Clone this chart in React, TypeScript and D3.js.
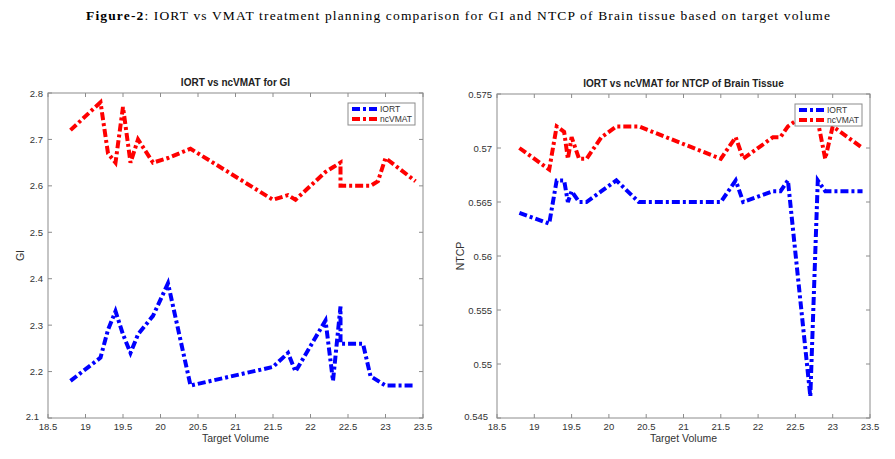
import React, { useRef, useEffect } from 'react'
import * as d3 from 'd3'

// Target volumes (x) shared by the GI series
const giVolume = [18.8, 19.2, 19.3, 19.4, 19.5, 19.6, 19.7, 19.9, 20.1, 20.4, 21.5, 21.7, 21.8, 22.2, 22.3, 22.4, 22.4, 22.7, 22.8, 22.9, 23.0, 23.4]
const giIORT = [2.18, 2.23, 2.29, 2.33, 2.28, 2.24, 2.28, 2.32, 2.39, 2.17, 2.21, 2.24, 2.2, 2.31, 2.18, 2.34, 2.26, 2.26, 2.19, 2.18, 2.17, 2.17]
const giVMAT = [2.72, 2.78, 2.67, 2.65, 2.77, 2.65, 2.7, 2.65, 2.66, 2.68, 2.57, 2.58, 2.57, 2.63, 2.64, 2.65, 2.6, 2.6, 2.6, 2.61, 2.66, 2.61]

// Target volumes (x) shared by the NTCP series
const ntcpVolume = [18.8, 19.2, 19.3, 19.4, 19.45, 19.5, 19.6, 19.7, 19.9, 20.1, 20.4, 21.5, 21.7, 21.8, 22.2, 22.3, 22.4, 22.5, 22.7, 22.8, 22.9, 23.0, 23.4]
const ntcpIORT = [0.564, 0.563, 0.567, 0.567, 0.565, 0.566, 0.565, 0.565, 0.566, 0.567, 0.565, 0.565, 0.567, 0.565, 0.566, 0.566, 0.567, 0.5603, 0.547, 0.567, 0.566, 0.566, 0.566]
const ntcpVMAT = [0.57, 0.568, 0.572, 0.5715, 0.569, 0.571, 0.569, 0.569, 0.571, 0.572, 0.572, 0.569, 0.571, 0.569, 0.571, 0.571, 0.572, 0.5725, 0.5725, 0.5725, 0.569, 0.572, 0.57]

const xTicks = [18.5, 19, 19.5, 20, 20.5, 21, 21.5, 22, 22.5, 23, 23.5]
const giTicks = [2.1, 2.2, 2.3, 2.4, 2.5, 2.6, 2.7, 2.8]
const ntcpTicks = [0.545, 0.55, 0.555, 0.56, 0.565, 0.57, 0.575]

const seriesNames = ['IORT', 'ncVMAT']
const seriesColors = ['#0000ff', '#ff0000']

interface PanelSpec {
  left: number
  right: number
  top: number
  bottom: number
  title: string
  yLabel: string
  yLabelOffset: number
  x: number[]
  series: number[][]
  yDomain: [number, number]
  yTicks: number[]
  yFormat: (d: number) => string
  legendX: number
  legendY: number
}

const FONT = '"Liberation Sans", Arial, sans-serif'
const DASH = '8,3,3,3'

function drawPanel(svg: d3.Selection<SVGSVGElement, unknown, null, undefined>, p: PanelSpec) {
  const x = d3.scaleLinear().domain([18.5, 23.5]).range([p.left, p.right])
  const y = d3.scaleLinear().domain(p.yDomain).range([p.bottom, p.top])
  const g = svg.append('g')

  // box
  g.append('rect')
    .attr('x', p.left)
    .attr('y', p.top)
    .attr('width', p.right - p.left)
    .attr('height', p.bottom - p.top)
    .attr('fill', '#fff')
    .attr('stroke', '#8c8c8c')
    .attr('stroke-width', 1)

  // ticks on all sides (inside)
  xTicks.forEach(t => {
    g.append('line').attr('x1', x(t)).attr('x2', x(t)).attr('y1', p.bottom).attr('y2', p.bottom - 4).attr('stroke', '#8c8c8c')
    g.append('line').attr('x1', x(t)).attr('x2', x(t)).attr('y1', p.top).attr('y2', p.top + 4).attr('stroke', '#8c8c8c')
    g.append('text')
      .attr('x', x(t))
      .attr('y', p.bottom + 12)
      .attr('text-anchor', 'middle')
      .style('font-family', FONT)
      .style('font-size', '9.5px')
      .style('fill', '#333')
      .text(String(t))
  })
  p.yTicks.forEach((t, i) => {
    g.append('line').attr('x1', p.left).attr('x2', p.left + 4).attr('y1', y(t)).attr('y2', y(t)).attr('stroke', '#8c8c8c')
    g.append('line').attr('x1', p.right).attr('x2', p.right - 4).attr('y1', y(t)).attr('y2', y(t)).attr('stroke', '#8c8c8c')
    g.append('text')
      .attr('x', p.left - (i === 0 ? 9 : 5))
      .attr('y', y(t) + (i === 0 ? 2 : 3.5))
      .attr('text-anchor', 'end')
      .style('font-family', FONT)
      .style('font-size', '9.5px')
      .style('fill', '#333')
      .text(p.yFormat(t))
  })

  // lines
  const line = d3
    .line<[number, number]>()
    .x(d => x(d[0]))
    .y(d => y(d[1]))
  p.series.forEach((vals, i) => {
    g.append('path')
      .datum(p.x.map((v, j) => [v, vals[j]] as [number, number]))
      .attr('d', line)
      .attr('fill', 'none')
      .attr('stroke', seriesColors[i])
      .attr('stroke-width', 4)
      .attr('stroke-dasharray', DASH)
      .attr('stroke-linejoin', 'miter')
  })

  // title and labels
  g.append('text')
    .attr('x', (p.left + p.right) / 2)
    .attr('y', p.top - 7)
    .attr('text-anchor', 'middle')
    .style('font-family', FONT)
    .style('font-size', '10px')
    .style('font-weight', 'bold')
    .style('fill', '#222')
    .text(p.title)

  g.append('text')
    .attr('x', (p.left + p.right) / 2)
    .attr('y', p.bottom + 24)
    .attr('text-anchor', 'middle')
    .style('font-family', FONT)
    .style('font-size', '10.5px')
    .style('fill', '#333')
    .text('Target Volume')

  g.append('text')
    .attr('transform', `translate(${p.left - p.yLabelOffset}, ${(p.top + p.bottom) / 2}) rotate(-90)`)
    .attr('text-anchor', 'middle')
    .style('font-family', FONT)
    .style('font-size', '10.5px')
    .style('fill', '#333')
    .text(p.yLabel)

  // legend
  const lg = g.append('g').attr('transform', `translate(${p.legendX}, ${p.legendY})`)
  lg.append('rect').attr('width', 67).attr('height', 22).attr('fill', '#fff').attr('stroke', '#8c8c8c').attr('stroke-width', 1)
  seriesNames.forEach((name, i) => {
    const ly = 6 + i * 10
    lg.append('line')
      .attr('x1', 4)
      .attr('x2', 30)
      .attr('y1', ly)
      .attr('y2', ly)
      .attr('stroke', seriesColors[i])
      .attr('stroke-width', 4)
      .attr('stroke-dasharray', DASH)
    lg.append('text')
      .attr('x', 32)
      .attr('y', ly + 3)
      .style('font-family', FONT)
      .style('font-size', '8.5px')
      .style('fill', '#333')
      .text(name)
  })
}

const App: React.FC = () => {
  const svgRef = useRef<SVGSVGElement>(null)

  useEffect(() => {
    if (!svgRef.current) return
    const svg = d3.select(svgRef.current)
    svg.selectAll('*').remove()

    svg.append('rect').attr('width', 895).attr('height', 459).attr('fill', '#fff')

    // figure caption
    const cap = svg
      .append('text')
      .attr('x', 86)
      .attr('y', 20)
      .attr('textLength', 744)
      .attr('lengthAdjust', 'spacing')
      .style('font-family', '"Liberation Serif", "Times New Roman", serif')
      .style('font-size', '13.5px')
      .style('fill', '#000')
    cap.append('tspan').style('font-weight', 'bold').text('Figure-2')
    cap.append('tspan').text(': IORT vs VMAT treatment planning comparison for GI and NTCP of Brain tissue based on target volume')

    drawPanel(svg, {
      left: 48,
      right: 423,
      top: 93,
      bottom: 418,
      title: 'IORT vs ncVMAT for GI',
      yLabel: 'GI',
      yLabelOffset: 24,
      x: giVolume,
      series: [giIORT, giVMAT],
      yDomain: [2.1, 2.8],
      yTicks: giTicks,
      yFormat: d => d3.format('.1f')(d),
      legendX: 348,
      legendY: 103,
    })

    drawPanel(svg, {
      left: 497,
      right: 870,
      top: 94,
      bottom: 418,
      title: 'IORT vs ncVMAT for NTCP of Brain Tissue',
      yLabel: 'NTCP',
      yLabelOffset: 33,
      x: ntcpVolume,
      series: [ntcpIORT, ntcpVMAT],
      yDomain: [0.545, 0.575],
      yTicks: ntcpTicks,
      yFormat: d => String(+d.toFixed(3)),
      legendX: 795,
      legendY: 104,
    })
  }, [])

  return (
    <div style={{ position: 'absolute', left: 0, top: 0 }}>
      <svg ref={svgRef} width={895} height={459} />
    </div>
  )
}

export default App
